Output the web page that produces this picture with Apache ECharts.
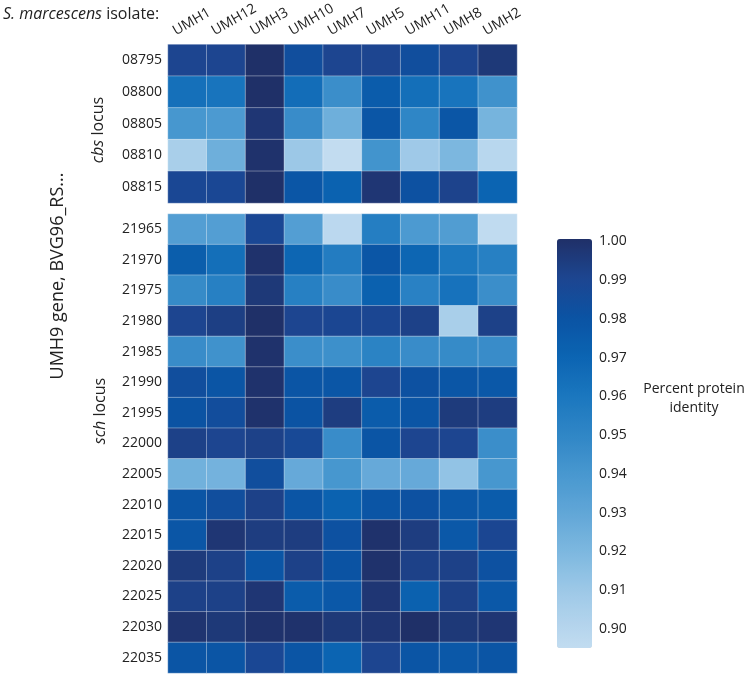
<!DOCTYPE html>
<html>
<head>
<meta charset="utf-8">
<script src="https://cdn.jsdelivr.net/npm/echarts@6/dist/echarts.min.js"></script>
<style>
html,body{margin:0;padding:0;background:#fff;}
#chart{width:750px;height:677px;}
</style>
</head>
<body>
<div id="chart"></div>
<script>
// ---- data ----
var isolates = ['UMH1','UMH12','UMH3','UMH10','UMH7','UMH5','UMH11','UMH8','UMH2'];
var cbsGenes = ['08795','08800','08805','08810','08815'];
var schGenes = ['21965','21970','21975','21980','21985','21990','21995','22000','22005','22010','22015','22020','22025','22030','22035'];
var colorbarTicks = ['0.90','0.91','0.92','0.93','0.94','0.95','0.96','0.97','0.98','0.99','1.00'];

var cbsValues = [
  [0.990,0.990,1.000,0.983,0.990,0.990,0.983,0.990,0.996],
  [0.963,0.961,1.000,0.965,0.945,0.975,0.964,0.961,0.943],
  [0.940,0.938,0.997,0.946,0.925,0.978,0.950,0.978,0.922],
  [0.905,0.925,0.999,0.910,0.895,0.942,0.909,0.920,0.899],
  [0.988,0.988,1.000,0.978,0.971,0.997,0.981,0.991,0.970]
];
var schValues = [
  [0.935,0.935,0.988,0.935,0.898,0.955,0.938,0.936,0.896],
  [0.974,0.964,0.999,0.969,0.956,0.978,0.969,0.959,0.954],
  [0.947,0.954,0.996,0.954,0.946,0.972,0.953,0.962,0.945],
  [0.990,0.993,1.000,0.990,0.989,0.989,0.992,0.905,0.992],
  [0.946,0.943,0.999,0.945,0.944,0.952,0.946,0.947,0.946],
  [0.983,0.979,0.999,0.979,0.978,0.990,0.981,0.978,0.977],
  [0.980,0.984,0.999,0.980,0.994,0.975,0.979,0.995,0.994],
  [0.992,0.990,0.992,0.987,0.946,0.979,0.990,0.990,0.945],
  [0.924,0.923,0.983,0.928,0.940,0.928,0.928,0.913,0.940],
  [0.979,0.983,0.992,0.979,0.971,0.979,0.981,0.977,0.975],
  [0.978,0.997,0.994,0.994,0.981,0.999,0.994,0.977,0.989],
  [0.995,0.992,0.979,0.992,0.980,0.999,0.992,0.992,0.981],
  [0.992,0.992,0.997,0.975,0.977,0.997,0.972,0.992,0.977],
  [0.998,0.996,0.999,0.999,0.996,0.997,1.000,0.996,0.997],
  [0.979,0.979,0.988,0.979,0.970,0.990,0.979,0.977,0.979]
];

// ---- colour scale (styling) ----
var scaleMin = 0.895, scaleMax = 1.0;
var stops = [
  [0.895,'#c2dcf0'],[0.90,'#b6d5ed'],[0.91,'#9cc8e7'],[0.92,'#7cb7df'],[0.93,'#60a6d7'],
  [0.94,'#4797cf'],[0.95,'#2f86c6'],[0.96,'#1a76be'],[0.97,'#0b64b2'],[0.98,'#0b53a3'],
  [0.99,'#1d4590'],[1.00,'#1f3068']
];
function hex2rgb(h){return [parseInt(h.substr(1,2),16),parseInt(h.substr(3,2),16),parseInt(h.substr(5,2),16)];}
function interp(v){
  for(var i=0;i<stops.length-1;i++){
    var a=stops[i],b=stops[i+1];
    if(v<=b[0]+1e-9){
      var t=(v-a[0])/(b[0]-a[0]);var ca=hex2rgb(a[1]),cb=hex2rgb(b[1]);
      var c=ca.map(function(x,k){return Math.round(x+(cb[k]-x)*t);});
      return 'rgb('+c.join(',')+')';
    }
  }
  return stops[stops.length-1][1];
}
var palette=[];
for(var i=0;i<=42;i++){palette.push(interp(scaleMin+(scaleMax-scaleMin)*i/42));}

function toData(rows){
  var out=[];
  rows.forEach(function(r,ri){r.forEach(function(v,ci){out.push([ci,ri,v]);});});
  return out;
}

var FONT='"Open Sans", "Noto Sans", sans-serif';
var chart = echarts.init(document.getElementById('chart'), null, {renderer:'canvas'});
var cellStyle={borderColor:'rgba(255,255,255,0.35)',borderWidth:1};

var option = {
  backgroundColor:'#fff',
  animation:false,
  textStyle:{fontFamily:FONT},
  grid:[
    {left:168, top:42, width:349, height:161},
    {left:168, top:214, width:349, height:459},
    {left:557, top:241.5, width:35, height:426.25}
  ],
  xAxis:[
    {type:'category', gridIndex:0, data:isolates, position:'top',
     axisLine:{show:false}, axisTick:{show:false}, splitLine:{show:false},
     axisLabel:{rotate:-30, margin:12, fontSize:14, color:'#222', fontFamily:FONT, interval:0,
       align:'left', verticalAlign:'bottom', padding:[0,0,0,-11.5]}},
    {type:'category', gridIndex:1, data:isolates, show:false},
    {type:'value', gridIndex:2, show:false, min:0, max:1}
  ],
  yAxis:[
    {type:'category', gridIndex:0, data:cbsGenes, inverse:true,
     axisLine:{show:false}, axisTick:{show:false}, splitLine:{show:false},
     axisLabel:{margin:6, fontSize:14, color:'#222', fontFamily:FONT}},
    {type:'category', gridIndex:1, data:schGenes, inverse:true,
     axisLine:{show:false}, axisTick:{show:false}, splitLine:{show:false},
     axisLabel:{margin:6, fontSize:14, color:'#222', fontFamily:FONT}},
    {type:'value', gridIndex:2, position:'right', min:0.89, max:1.0, interval:0.01,
     axisLine:{show:false}, axisTick:{show:false}, splitLine:{show:false},
     axisLabel:{margin:7, fontSize:14, color:'#222', fontFamily:FONT, showMinLabel:false,
       formatter:function(v){var s=v.toFixed(2);return colorbarTicks.indexOf(s)>=0?s:'';}}}
  ],
  visualMap:{
    type:'continuous', min:scaleMin, max:scaleMax, seriesIndex:[0,1],
    left:557, top:239, itemWidth:35, itemHeight:409, padding:0,
    calculable:false, realtime:false, hoverLink:false,
    text:null, showLabel:false,
    inRange:{color:palette}
  },
  series:[
    {type:'heatmap', xAxisIndex:0, yAxisIndex:0, data:toData(cbsValues), itemStyle:cellStyle, emphasis:{disabled:true}},
    {type:'heatmap', xAxisIndex:1, yAxisIndex:1, data:toData(schValues), itemStyle:cellStyle, emphasis:{disabled:true}}
  ],
  graphic:[
    {type:'text', left:3, top:6, style:{text:'{i|S. marcescens} isolate:', fontSize:16, fill:'#222', fontFamily:FONT,
      rich:{i:{fontStyle:'italic', fontSize:16, fontFamily:FONT}}}},
    {type:'text', x:58, y:276, rotation:Math.PI/2, style:{text:'UMH9 gene, BVG96_RS...', fontSize:18, fill:'#222', fontFamily:FONT, align:'center', verticalAlign:'middle'}},
    {type:'text', x:98, y:130, rotation:Math.PI/2, style:{text:'{i|cbs} locus', fontSize:16, fill:'#222', fontFamily:FONT, align:'center', verticalAlign:'middle',
      rich:{i:{fontStyle:'italic', fontSize:16, fontFamily:FONT}}}},
    {type:'text', x:100, y:411, rotation:Math.PI/2, style:{text:'{i|sch} locus', fontSize:16, fill:'#222', fontFamily:FONT, align:'center', verticalAlign:'middle',
      rich:{i:{fontStyle:'italic', fontSize:16, fontFamily:FONT}}}},
    {type:'text', x:694, y:399, style:{text:'Percent protein\nidentity', fontSize:14, lineHeight:19, fill:'#222', fontFamily:FONT, align:'center', verticalAlign:'middle'}}
  ]
};
chart.setOption(option);
</script>
</body>
</html>
